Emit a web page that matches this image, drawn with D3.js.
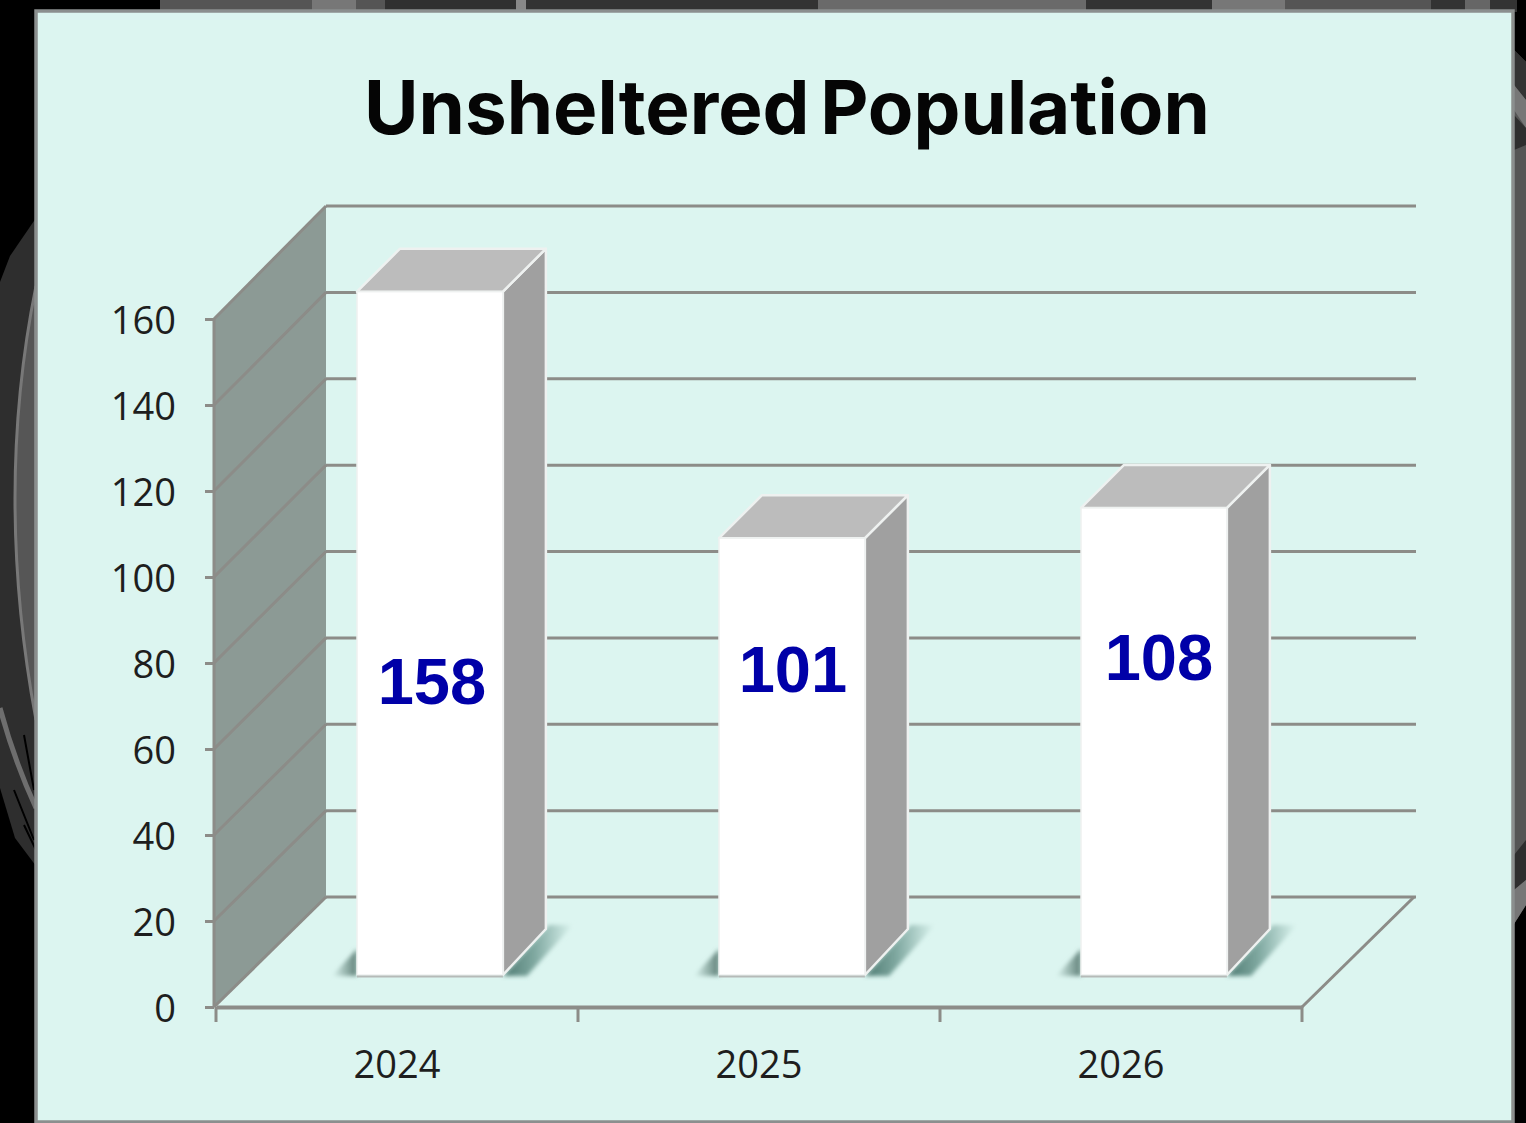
<!DOCTYPE html>
<html><head><meta charset="utf-8">
<script src="https://cdn.jsdelivr.net/npm/d3@7"></script>
<style>html,body{margin:0;padding:0;background:#000;overflow:hidden}svg{display:block}</style>
</head><body><svg id="c" width="1526" height="1123"></svg>
<script>
const categories = ["2024","2025","2026"];
const values = [158,101,108];
const yTicks = [0,20,40,60,80,100,120,140,160];
const titleText = "Unsheltered Population";

const svg = d3.select("#c");
const defs = svg.append("defs");
const blur = defs.append("filter").attr("id","b").attr("filterUnits","userSpaceOnUse").attr("x",0).attr("y",0).attr("width",1526).attr("height",1123);
blur.append("feGaussianBlur").attr("stdDeviation",2);
const soft = defs.append("filter").attr("id","s").attr("filterUnits","userSpaceOnUse").attr("x",0).attr("y",0).attr("width",1526).attr("height",1123);
soft.append("feGaussianBlur").attr("stdDeviation",0.6);
const gr = defs.append("linearGradient").attr("id","sr");
gr.append("stop").attr("offset","0%").attr("stop-color","#4f7a72");
gr.append("stop").attr("offset","45%").attr("stop-color","#7fa8a0");
gr.append("stop").attr("offset","100%").attr("stop-color","#dcf5f0");
const gl2 = defs.append("linearGradient").attr("id","sl");
gl2.append("stop").attr("offset","0%").attr("stop-color","#dcf5f0");
gl2.append("stop").attr("offset","100%").attr("stop-color","#5f8078");

// backdrop
svg.append("rect").attr("width",1526).attr("height",1123).attr("fill","#000");
const deco = svg.append("g");
const topStrip = [[160,312,"#555"],[312,356,"#777"],[356,385,"#555"],[385,516,"#303030"],[516,526,"#888"],[526,818,"#333"],[818,1086,"#6a6a6a"],[1086,1212,"#333"],[1212,1285,"#777"],[1285,1431,"#555"],[1431,1465,"#333"],[1465,1490,"#666"],[1490,1517,"#333"]];
deco.selectAll(".ts").data(topStrip).join("rect").attr("class","ts").attr("x",d=>d[0]).attr("y",0).attr("width",d=>d[1]-d[0]).attr("height",12).attr("fill",d=>d[2]);
// left side swooshes
deco.append("path").attr("d","M36,218 L10,256 L0,282 L0,788 L15,838 L36,866 Z").attr("fill","#2e2e2e");
deco.append("path").attr("d","M36,286 Q-6,494 36,720 Z").attr("fill","#565656").attr("stroke","#787878").attr("stroke-width",3);
deco.append("path").attr("d","M0,708 Q14,760 36,808").attr("fill","none").attr("stroke","#6e6e6e").attr("stroke-width",5);
deco.append("path").attr("d","M24,735 L34,790 M14,790 L34,840 M24,825 L36,850").attr("fill","none").attr("stroke","#000").attr("stroke-width",2);
// right side swooshes
deco.append("path").attr("d","M1514,50 L1526,62 L1526,905 L1514,924 Z").attr("fill","#555");
deco.append("path").attr("d","M1514,50 L1526,62 L1526,100 L1514,85 Z").attr("fill","#333");
deco.append("path").attr("d","M1514,85 L1526,100 L1526,128 L1514,110 Z").attr("fill","#777");
deco.append("path").attr("d","M1514,115 L1526,128 L1526,145 L1514,150 Z").attr("fill","#2e2e2e");
deco.append("path").attr("d","M1514,855 L1526,840 L1526,880 L1514,890 Z").attr("fill","#2e2e2e");
deco.append("path").attr("d","M1514,890 L1526,880 L1526,905 L1514,924 Z").attr("fill","#777");

// panel
svg.append("rect").attr("x",36).attr("y",11).attr("width",1477).attr("height",1111)
  .attr("fill","#dcf5f0").attr("stroke","#8b8f8e").attr("stroke-width",3.5);

const grid = "#8c8c88";
const front = {x0:216, x1:1302, yBase:1007, yTop:319};
const depth = {dx:110, dy:-110};
const barDepth = 43;
const barDepthLow = 46;

const yFront = d3.scaleLinear().domain([0,160]).range([front.yBase,front.yTop]);
const yBack  = d3.scaleLinear().domain([0,160]).range([897,206]);
const yBar   = d3.scaleLinear().domain([0,160]).range([975,283]);
const x = d3.scaleBand().domain(categories).range([front.x0,front.x1]);

// left wall
svg.append("path").attr("d",`M${front.x0-2},${yFront(0)} L${front.x0-2},${yFront(160)} L${front.x0+depth.dx},${yBack(160)} L${front.x0+depth.dx},${yBack(0)} Z`)
  .attr("fill","#8c9a95");
// gridlines
const gl = svg.append("g").attr("stroke",grid).attr("stroke-width",3).attr("fill","none").attr("filter","url(#s)");
yTicks.forEach(t=>{
  gl.append("line").attr("x1",front.x0+depth.dx).attr("x2",1416).attr("y1",yBack(t)).attr("y2",yBack(t));
  gl.append("line").attr("x1",front.x0-2).attr("x2",front.x0+depth.dx).attr("y1",yFront(t)).attr("y2",yBack(t));
});
gl.append("line").attr("x1",front.x1).attr("x2",1414).attr("y1",yFront(0)).attr("y2",yBack(0));
gl.append("line").attr("x1",front.x0-2).attr("x2",front.x0-2).attr("y1",yFront(0)).attr("y2",yFront(160));

const labelFont = "'Open Sans',sans-serif";
const yAxis = d3.axisLeft(yFront).tickValues(yTicks).tickSize(9).tickPadding(29);
const ga = svg.append("g").attr("transform",`translate(${front.x0-2},0)`).call(yAxis);
ga.select(".domain").remove();
ga.selectAll("line").attr("stroke",grid).attr("stroke-width",3);
ga.selectAll("text").attr("font-family",labelFont).attr("font-size",38).attr("fill","#1e1e1e").attr("dy","0.38em");

const xAxis = d3.axisBottom(x).tickValues([]).tickSizeOuter(0);
const gx = svg.append("g").attr("transform",`translate(0,${front.yBase})`).call(xAxis);
gx.select(".domain").attr("stroke",grid).attr("stroke-width",4);
const edges = categories.map(c=>x(c)).concat([front.x1]);
gx.selectAll(".t").data(edges).join("line").attr("class","t").attr("x1",d=>d).attr("x2",d=>d).attr("y1",0).attr("y2",15).attr("stroke",grid).attr("stroke-width",3);
gx.selectAll(".l").data(categories).join("text").attr("class","l")
  .attr("x",d=>x(d)+x.bandwidth()/2).attr("y",71).attr("text-anchor","middle")
  .attr("font-family",labelFont).attr("font-size",38).attr("fill","#1e1e1e").text(d=>d);

// bars
const barW = x.bandwidth()*0.403;
const bx = c => x(c)+141;
const y0 = yBar(0);
const bars = svg.selectAll(".bar").data(categories.map((c,i)=>({c,v:values[i]}))).join("g").attr("class","bar");
// floor shadows
bars.append("path").attr("d",d=>`M${bx(d.c)-25},${y0+1} L${bx(d.c)},${y0-26} L${bx(d.c)},${y0+1} Z`).attr("fill","url(#sl)").attr("filter","url(#b)");
bars.append("path").attr("d",d=>`M${bx(d.c)+barW},${y0+1} L${bx(d.c)+barW+barDepthLow},${y0-50} L${bx(d.c)+barW+barDepthLow+24},${y0-50} L${bx(d.c)+barW+24},${y0+1} Z`).attr("fill","url(#sr)").attr("filter","url(#b)");
// faces
const st = g=>g.attr("stroke","#eef1f0").attr("stroke-width",2.5).attr("stroke-linejoin","round");
bars.append("path").attr("d",d=>`M${bx(d.c)+barW},${y0} L${bx(d.c)+barW+barDepth},${y0-barDepthLow} L${bx(d.c)+barW+barDepth},${yBar(d.v)-barDepth} L${bx(d.c)+barW},${yBar(d.v)} Z`).attr("fill","#a0a0a0").call(st);
bars.append("path").attr("d",d=>`M${bx(d.c)},${yBar(d.v)} L${bx(d.c)+barDepth},${yBar(d.v)-barDepth} L${bx(d.c)+barW+barDepth},${yBar(d.v)-barDepth} L${bx(d.c)+barW},${yBar(d.v)} Z`).attr("fill","#bcbcbc").call(st);
bars.append("rect").attr("x",d=>bx(d.c)).attr("y",d=>yBar(d.v)).attr("width",barW).attr("height",d=>y0-yBar(d.v)).attr("fill","#fff").attr("stroke","#eef1f0").attr("stroke-width",1.5);
svg.append("g").selectAll("line").data(categories).join("line")
  .attr("x1",c=>bx(c)).attr("x2",c=>bx(c)+barW).attr("y1",y0+1.5).attr("y2",y0+1.5).attr("stroke","#b5bab8").attr("stroke-width",2);

// labels
const labelY = [704,692,680];
const labelShift = [0,-1,3];
svg.selectAll(".dl").data(values).join("text").attr("class","dl")
  .attr("x",(d,i)=>bx(categories[i])+barW/2+2+labelShift[i]).attr("y",(d,i)=>labelY[i])
  .attr("text-anchor","middle").attr("font-family","'Liberation Sans',Arial,sans-serif").attr("font-weight",700)
  .attr("font-size",65).attr("fill","#0000a8").text(d=>d);

// title
svg.append("text").attr("x",787).attr("y",134).attr("text-anchor","middle")
  .attr("font-family","Inter,sans-serif").attr("font-weight",700).attr("font-size",74.5).attr("word-spacing",-7).attr("fill","#050505").text(titleText);
</script></body></html>
